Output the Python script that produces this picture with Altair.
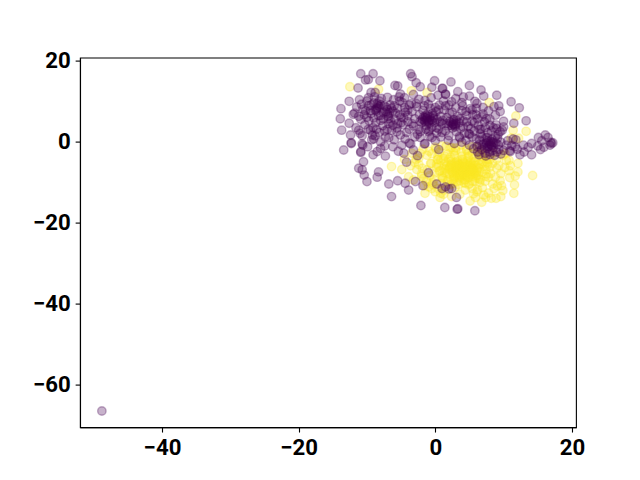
import altair as alt
import pandas as pd

yellow_x = [-12.5,-8.3,-3.5,-1.2,7.9,11.8,13.3,11.4,12.2,11.1,-6.4,-4.9,-3.4,-2.2,-2.7,-3.9,-1.5,-0.5,0.7,2.4,-1.7,-0.7,
    14.25,12.1,12.1,10.9,11.7,11.6,11.5,11.0,9.9,9.6,8.9,8.2,8.6,9.5,9.0,6.8,7.1,6.1,5.9,5.1,4.4,4.4,8.1,
    -3.0,-2.4,-1.9,-1.2,-0.6,-0.1,0.4,-2.0,-1.3,-0.5,0.2,-1.0,-0.2,0.6,0.9,1.3,-1.8,-0.9,0.1,1.0,
    9.9,10.4,10.8,9.3,9.7,8.5,8.8,10.2,7.6,8.0,7.3,6.9,6.5,7.8,8.4,7.1,6.7,9.1,5.6,6.2,3.6,2.9,2.2,3.2,4.9,5.4,6.4,7.5,
    1.2,1.5,1.8,2.1,2.4,2.7,3.0,3.3,3.6,3.9,4.2,4.5,4.8,5.1,5.4,5.7,6.0,6.3,6.6,
    1.3,1.6,1.9,2.2,2.5,2.8,3.1,3.4,3.7,4.0,4.3,4.6,4.9,5.2,5.5,5.8,6.1,6.4,
    1.1,1.4,1.7,2.0,2.3,2.6,2.9,3.2,3.5,3.8,4.1,4.4,4.7,5.0,5.3,5.6,5.9,6.2,6.5,6.8,
    2.1,2.5,2.9,3.3,3.7,4.1,4.5,4.9,5.3,5.7,6.1,2.3,2.7,3.1,3.5,3.9,4.3,4.7,5.1,5.5,
    3.2,3.6,4.0,4.4,4.8,5.2,3.4,3.8,4.2,4.6,5.0,0.3,0.7,1.1,0.5,0.0,-0.4,1.6,2.4,3.0,3.8,4.6,5.4,6.2,7.0,7.4,7.7,
    0.2,0.6,1.0,1.4,1.8,2.2,2.6,3.0,3.4,3.8,4.2,4.6,5.0,5.4,5.8,6.2,6.6,7.0,7.4,7.8,
    0.4,0.8,1.2,1.6,2.0,2.4,2.8,3.2,3.6,4.0,4.4,4.8,5.2,5.6,6.0,6.4,6.8,7.2,7.6,8.0,
    2.0,2.3,2.6,2.9,3.2,3.5,3.8,4.1,4.4,4.7,5.0,5.3,5.6,3.0,3.4,3.8,4.2,4.6,5.0,5.4,
    3.1,3.5,3.9,4.3,4.7,5.1,3.3,3.7,4.1,4.5,4.9,5.3,2.8,3.0,4.0,4.4,4.8,5.2,5.6,6.0,
    -4.5,-3.6,-2.8,-2.0,-1.2,-0.4,0.4,1.2,-3.2,-2.4,-1.6,-0.8,0.0,0.8,8.4,9.0,9.6,10.2,10.8,7.4]
yellow_y = [13.5,12.9,12.5,12.1,9.6,6.3,2.5,2.8,0.8,0.8,-6.2,-6.9,-2.9,-2.9,-6.9,-8.7,-12.8,-11.6,-13.8,-13.6,-9.1,-5.4,
    -8.4,-5.4,-7.5,-8.9,-8.5,-10.7,-12.8,-6.0,-12.1,-13.6,-14.0,-14.0,-11.6,-9.7,-6.6,-15.0,-13.2,-12.4,-13.8,-14.7,-12.0,-10.3,-7.9,
    -5.2,-4.1,-6.6,-3.4,-5.5,-7.8,-4.4,-8.6,-9.9,-3.0,-6.4,-11.2,-9.3,-2.6,-10.4,-12.0,-1.9,-2.4,-1.8,-1.1,
    -3.4,-4.7,-7.2,-5.9,-10.9,-2.9,-8.8,-3.0,-4.3,-6.3,-9.8,-11.4,-10.1,-12.7,-10.5,-3.1,-2.2,-11.0,-12.9,-11.9,-13.0,-11.3,-10.6,-9.9,-10.7,-11.6,-9.2,-8.0,
    -4.2,-6.8,-3.1,-8.1,-5.4,-2.6,-7.2,-4.7,-9.1,-3.6,-6.1,-8.4,-2.9,-5.3,-7.5,-4.0,-9.0,-6.5,-3.3,
    -7.7,-5.1,-9.4,-3.9,-6.6,-8.8,-5.0,-7.3,-9.7,-4.4,-6.9,-8.2,-3.7,-6.0,-8.6,-5.0,-7.4,-4.6,
    -9.0,-3.6,-6.0,-7.0,-4.9,-8.0,-6.2,-8.9,-5.6,-7.6,-5.2,-7.3,-5.8,-8.9,-6.3,-7.0,-5.9,-8.3,-6.7,-5.5,
    -6.4,-7.4,-7.7,-6.5,-8.0,-6.8,-8.7,-7.1,-6.6,-7.9,-7.0,-5.8,-9.2,-5.4,-8.3,-6.0,-9.5,-7.2,-6.3,-9.9,
    -7.0,-7.6,-6.2,-7.8,-6.6,-7.4,-6.9,-7.1,-8.1,-7.5,-6.9,-4.5,-7.2,-9.0,-6.0,-1.4,-10.1,-1.2,-1.5,-1.6,-0.9,-1.8,-1.3,-1.4,-5.0,-8.6,-5.6,
    -5.6,-7.4,-8.6,-5.6,-9.8,-1.6,-10.4,-2.2,-10.6,-2.6,-10.2,-2.2,-10.4,-3.0,-9.8,-2.8,-9.4,-3.8,-7.0,-8.8,
    -3.6,-4.6,-6.6,-7.8,-4.4,-9.6,-3.4,-5.8,-8.6,-4.8,-9.4,-4.0,-8.0,-5.2,-7.8,-5.6,-7.6,-6.2,-5.2,-4.4,
    -6.6,-5.9,-7.7,-5.2,-8.2,-6.0,-8.0,-6.6,-7.6,-5.0,-6.8,-8.2,-6.6,-6.7,-6.4,-7.2,-8.4,-6.2,-7.9,-5.8,
    -7.5,-7.0,-5.5,-7.0,-7.7,-7.2,-5.7,-8.4,-7.6,-6.7,-6.1,-6.9,-8.6,-6.1,-6.3,-5.6,-8.8,-5.1,-7.5,-8.5,
    -4.4,-6.0,-4.4,-8.0,-7.0,-10.6,-11.6,-13.0,-9.5,-5.7,-10.8,-8.4,-12.4,-12.8,-5.4,-4.4,-7.9,-6.4,-4.6,-13.8]

purple_x = [-48.8,-10.9,-9.1,-10.2,-9.8,-8.1,-11.3,-9.4,-8.8,-5.9,-5.5,-3.6,-3.4,-2.8,-2.2,-0.1,1.1,-0.5,-5.1,1.5,-12.6,-13.8,-13.9,-12.0,-12.6,-13.7,-12.4,-12.3,-13.4,-10.9,-10.7,-11.2,-9.5,-9.3,
    2.3,5.0,1.0,1.5,3.3,6.7,7.1,5.0,9.0,11.1,12.3,9.3,13.3,11.5,10.0,9.5,7.8,8.8,8.0,8.9,9.8,6.8,5.4,6.1,3.9,2.4,16.1,15.1,17.2,16.8,15.9,15.4,14.1,14.1,12.9,11.7,12.4,11.0,
    -12.3,-10.7,-10.9,-10.5,-11.2,-10.7,-10.4,-10.0,-8.5,-8.3,-6.4,-6.8,-5.5,-4.4,-3.9,-2.9,-1.8,-2.1,1.4,3.2,3.1,-1.0,0.2,1.0,1.5,2.0,2.4,-4.2,-4.6,-7.3,-8.5,-9.1,-8.0,-6.2,-3.6,-1.5,0.5,3.3,5.8,
    -11.5,-10.8,-10.2,-9.8,-9.4,-9.0,-8.6,-8.3,-8.0,-7.6,-7.2,-6.9,-6.6,-6.2,-5.9,-5.5,-5.2,-4.8,-4.4,-4.0,-10.9,-10.3,-9.7,-9.1,-8.7,-8.2,-7.7,-7.3,-6.8,-6.4,-6.0,-5.6,-5.1,-4.7,-4.2,-3.8,
    -7.9,-7.0,-6.1,-5.3,-4.5,-3.8,-3.2,-9.8,-8.9,-11.1,-8.0,-7.4,-6.8,-9.0,-9.9,-10.6,-5.4,-4.9,-3.2,-2.6,-3.0,-2.4,
    -8.5,-8.8,-8.2,-7.0,-6.7,-7.2,-8.6,-8.4,
    -3.4,-3.0,-2.7,-2.3,-2.0,-1.8,-1.5,-1.3,-1.1,-0.9,-0.7,-0.5,-0.3,-0.1,0.1,0.3,0.5,0.6,0.8,1.0,-1.6,-1.2,-1.0,-0.8,-0.6,-0.4,-0.2,-1.9,-2.2,-1.4,-1.5,-1.3,-1.7,-1.1,-0.9,
    1.3,1.5,1.7,1.9,2.1,2.3,2.5,2.7,2.9,3.1,3.3,3.5,3.7,3.9,4.1,4.3,4.6,4.8,5.1,5.4,5.7,6.0,6.3,6.6,7.0,7.3,7.6,8.2,8.6,9.2,2.6,2.9,2.4,2.7,3.0,
    -1.5,-0.6,0.4,1.2,2.0,3.0,4.1,5.8,-2.4,
    6.1,6.5,6.8,7.1,7.4,7.6,7.8,8.0,8.2,8.3,8.5,8.7,8.9,9.1,9.3,9.6,7.3,6.4,7.9,8.1,7.5,8.4,10.4,10.9,11.4,12.0,13.0,13.6,15.0,15.6,16.5,16.9,17.0,8.0,7.7,8.3,
    4.5,5.0,5.4,3.6,2.8,1.9,0.8,0.0,-0.8,-1.6,-2.2,-1.0,0.2,3.9,4.9,
    -11.8,-11.2,-10.6,-10.0,-9.5,-9.0,-8.5,-8.0,-7.5,-7.0,-6.5,-6.0,-5.5,-5.0,-4.5,-4.0,-3.5,
    -11.6,-11.0,-10.4,-9.8,-9.2,-8.6,-8.0,-7.4,-6.8,-6.2,-5.6,-5.0,-4.4,-3.8,-3.2,-2.6,
    -10.0,-9.4,-8.8,-8.2,-7.6,-7.0,-6.4,-5.8,-5.2,-4.6,-4.0,-3.4,-2.8,-2.2,-1.6,
    -1.0,-0.5,0.0,0.5,1.0,1.5,2.0,2.5,3.0,3.5,4.0,4.5,5.0,5.5,6.0,6.5,7.0,7.5,8.0,8.5,9.0,9.5,10.0,
    -1.4,-0.9,-0.4,0.2,0.7,1.1,1.6,2.1,2.6,3.1,3.6,4.1,4.6,5.2,5.7,6.2,6.7,7.2,7.7,
    5.6,6.0,6.4,6.8,7.2,7.6,8.0,8.4,8.8,9.2,9.6,10.0,10.6,11.2,11.8,6.2,6.9,7.4,8.6,9.0]
purple_y = [-66.5,16.7,16.7,15.2,15.3,15.0,13.2,12.1,12.1,13.8,13.7,16.7,16.0,14.5,13.5,15.0,13.1,13.4,11.7,11.7,9.9,8.1,5.6,6.7,4.5,2.8,1.6,-0.3,-2.1,-2.5,1.4,2.8,2.8,0.4,
    14.7,13.8,13.1,11.6,12.3,12.7,11.2,11.2,11.4,9.8,8.3,8.8,5.1,4.5,5.0,7.4,7.6,6.5,5.5,4.1,2.8,6.1,7.8,9.4,9.6,9.8,1.6,1.0,-0.3,-0.9,-1.4,-2.0,-3.3,-0.5,-0.9,-1.3,-3.3,-2.5,
    -0.5,-0.6,-2.7,-5.0,-6.6,-7.0,-8.3,-9.9,-8.8,-7.5,-13.6,-10.5,-9.7,-10.3,-12.0,-9.9,-10.9,-15.8,-16.3,-16.7,-13.8,-7.7,-10.5,-11.6,-11.2,-11.7,-11.6,-5.1,-2.9,-3.6,-2.5,-3.3,-1.7,-1.3,-0.6,-0.5,-2.0,-16.6,-17.1,
    8.5,9.2,7.6,8.8,6.9,9.5,8.0,6.4,9.1,7.2,8.5,6.2,9.0,7.5,5.4,8.2,6.6,9.6,7.2,4.9,5.5,4.1,5.1,3.4,4.6,2.2,3.9,1.1,4.4,2.7,0.4,3.3,1.6,4.1,2.2,-0.4,
    10.6,10.9,10.3,11.0,10.8,9.0,11.6,10.8,11.0,10.3,-0.1,-1.1,0.9,0.6,-1.3,-0.9,-2.4,-0.9,-2.1,-3.5,1.1,3.0,
    8.3,7.8,8.6,7.9,7.1,7.3,7.5,8.9,
    7.4,5.6,8.6,6.6,4.6,7.7,5.9,4.0,6.8,5.1,8.2,3.5,6.3,4.6,7.4,5.5,3.1,9.0,6.2,4.4,5.2,5.7,4.9,6.0,5.3,5.0,5.8,5.5,5.0,6.4,4.8,5.3,6.1,6.2,4.5,
    7.8,2.6,5.9,3.8,6.9,4.7,3.3,5.4,4.0,2.4,6.2,4.6,3.2,7.6,5.1,2.0,6.4,3.8,8.1,5.0,2.6,6.6,4.0,1.9,8.4,3.4,1.0,2.6,8.6,1.8,4.3,3.6,3.9,4.9,4.4,
    10.1,10.8,11.4,10.0,9.0,10.6,11.0,9.9,10.4,
    -1.2,0.3,-2.0,-0.6,0.9,-1.7,-0.1,-2.6,-0.9,0.5,-1.5,-3.4,-0.4,0.8,-2.0,-3.1,-2.9,-3.3,-1.1,0.1,-0.4,-0.1,-0.9,-2.3,0.6,-1.9,-2.6,-1.4,-1.1,0.2,1.0,-0.2,-0.5,-0.6,-1.3,-1.1,
    0.3,-0.9,1.1,0.9,-0.5,0.3,1.1,0.2,1.3,-0.6,1.0,2.4,2.1,-0.2,1.9,
    7.0,6.2,8.0,6.0,7.6,5.8,9.4,5.2,8.8,6.8,5.0,8.8,4.4,6.0,8.4,6.4,9.4,
    3.4,2.0,6.6,3.0,1.6,3.0,6.4,2.6,5.6,4.0,2.4,4.6,0.6,3.0,3.8,1.8,
    10.0,9.0,1.4,10.0,5.6,3.0,8.2,7.0,10.0,5.8,7.8,4.4,9.4,2.4,8.8,
    9.2,1.0,8.4,7.8,2.2,8.8,1.4,7.2,8.4,1.2,8.8,7.4,1.8,6.6,8.2,3.0,6.8,5.6,4.0,3.4,3.2,2.4,3.6,
    3.0,2.8,7.0,3.4,4.8,5.2,4.4,5.0,4.2,5.2,5.6,3.6,4.8,3.2,4.6,5.6,3.0,4.8,2.2,
    -1.8,0.6,-0.8,1.2,-1.4,0.2,-3.2,-2.2,1.2,-0.8,-0.2,-2.2,0.2,-1.0,0.4,-2.6,-0.9,-3.6,-0.3,-2.6]

x_ticks = [-40, -20, 0, 20]
y_ticks = [-60, -40, -20, 0, 20]
font = "Roboto"

data = pd.DataFrame({
    "x": yellow_x + purple_x,
    "y": yellow_y + purple_y,
    "group": ["yellow"] * len(yellow_x) + ["purple"] * len(purple_x),
})

chart = (
    alt.Chart(data)
    .mark_point(filled=True, size=72, fillOpacity=0.3, strokeOpacity=0.3, strokeWidth=1.39, opacity=1)
    .encode(
        x=alt.X("x:Q", title=None, scale=alt.Scale(domain=[-52, 20.6], nice=False, zero=False),
                axis=alt.Axis(values=x_ticks, grid=False, labelFlush=False)),
        y=alt.Y("y:Q", title=None, scale=alt.Scale(domain=[-70.5, 20.7], nice=False, zero=False),
                axis=alt.Axis(values=y_ticks, grid=False, labelOverlap=False)),
        color=alt.Color("group:N", legend=None, sort=None,
                        scale=alt.Scale(domain=["yellow", "purple"], range=["#fde725", "#440154"])),
        stroke=alt.Stroke("group:N", legend=None, sort=None,
                          scale=alt.Scale(domain=["yellow", "purple"], range=["#fde725", "#440154"])),
    )
    .properties(width=496, height=369.6,
                autosize=alt.AutoSizeParams(type="none"),
                padding={"left": 72, "top": 49.6, "right": 56, "bottom": 45})
    .configure_view(stroke="#000000", strokeWidth=1.11)
    .configure_axis(domainColor="#000000", domainWidth=1.11, tickColor="#000000", tickWidth=1.11, tickSize=4.86,
                    labelColor="#000000", labelFont=font, labelFontSize=22.2, labelFontWeight="bold", labelPadding=4.86)
)

chart.save("out.html", embed_options={"renderer": "svg", "actions": False})
